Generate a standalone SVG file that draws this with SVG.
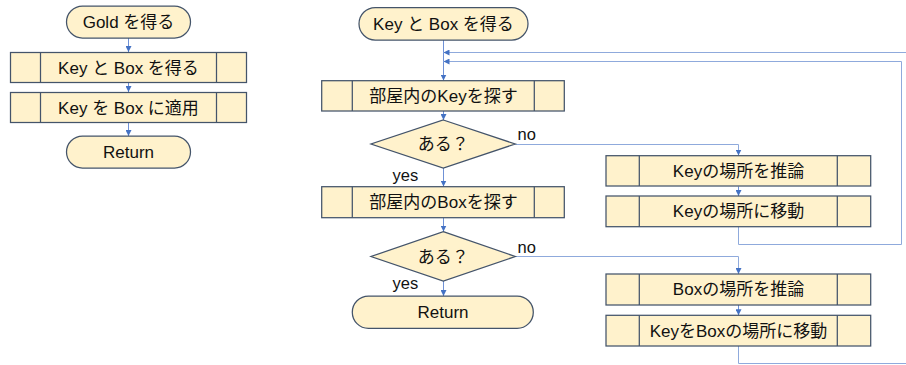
<svg xmlns="http://www.w3.org/2000/svg" width="906" height="365" viewBox="0 0 906 365">
  <style>
    .shape { fill: #FFF2CC; stroke: #44546A; stroke-width: 1.25; }
    .div { stroke: #44546A; stroke-width: 1.25; fill: none; }
    .lbl { font-family: "Liberation Sans", "Noto Sans CJK JP", sans-serif; font-size: 17px; fill: #111; text-anchor: middle; }
    .tag { font-family: "Liberation Sans", "Noto Sans CJK JP", sans-serif; font-size: 16.5px; fill: #111; }
    .flow { fill: none; stroke: #6F91D6; stroke-width: 1; }
    .loop { fill: none; stroke: #8FAADC; stroke-width: 1; }
  </style>
  <defs>
    <marker id="arr" viewBox="0 0 10 10" refX="10" refY="5" markerWidth="6" markerHeight="6" markerUnits="userSpaceOnUse" orient="auto">
      <path d="M0,0 L10,5 L0,10 z" fill="#4472C4"/>
    </marker>
  </defs>

  <rect width="906" height="365" fill="#FFFFFF"/>

  <!-- connectors -->
  <g id="connectors">
    <!-- left flow -->
    <line class="flow" x1="128.5" y1="38" x2="128.5" y2="52" marker-end="url(#arr)"/>
    <line class="flow" x1="128.5" y1="83" x2="128.5" y2="92" marker-end="url(#arr)"/>
    <line class="flow" x1="128.5" y1="123" x2="128.5" y2="136" marker-end="url(#arr)"/>
    <!-- right main flow -->
    <line class="flow" x1="443.5" y1="40" x2="443.5" y2="80.5" marker-end="url(#arr)"/>
    <line class="flow" x1="443.5" y1="111" x2="443.5" y2="120" marker-end="url(#arr)"/>
    <line class="flow" x1="443.5" y1="168" x2="443.5" y2="186.5" marker-end="url(#arr)"/>
    <line class="flow" x1="443.5" y1="218" x2="443.5" y2="231.5" marker-end="url(#arr)"/>
    <line class="flow" x1="443.5" y1="281" x2="443.5" y2="296" marker-end="url(#arr)"/>
    <!-- no branches -->
    <polyline class="loop" points="515.3,144.5 738.5,144.5 738.5,155.5" marker-end="url(#arr)"/>
    <polyline class="loop" points="515.3,256.5 738.5,256.5 738.5,274" marker-end="url(#arr)"/>
    <line class="flow" x1="738.5" y1="186.5" x2="738.5" y2="196" marker-end="url(#arr)"/>
    <line class="flow" x1="738.5" y1="305" x2="738.5" y2="315.3" marker-end="url(#arr)"/>
    <!-- loops back -->
    <polyline class="loop" points="738.5,227 738.5,244.5 901.5,244.5 901.5,61.5 443.5,61.5" marker-end="url(#arr)"/>
    <polyline class="loop" points="738.5,346 738.5,363.5 908.5,363.5 908.5,52.5 443.5,52.5" marker-end="url(#arr)"/>
  </g>

  <!-- left flow nodes -->
  <g id="gold-start">
    <rect class="shape" x="66.5" y="6" width="124" height="32" rx="16"/>
    <text class="lbl" x="128.5" y="28">Gold を得る</text>
  </g>
  <g id="get-key-box">
    <rect class="shape" x="10.5" y="52.5" width="236" height="30"/>
    <line class="div" x1="40.5" y1="52.5" x2="40.5" y2="82.5"/>
    <line class="div" x1="216.5" y1="52.5" x2="216.5" y2="82.5"/>
    <text class="lbl" x="128.5" y="73.5">Key と Box を得る</text>
  </g>
  <g id="apply-key">
    <rect class="shape" x="10.5" y="92.5" width="236" height="30"/>
    <line class="div" x1="40.5" y1="92.5" x2="40.5" y2="122.5"/>
    <line class="div" x1="216.5" y1="92.5" x2="216.5" y2="122.5"/>
    <text class="lbl" x="128.5" y="113.5">Key を Box に適用</text>
  </g>
  <g id="gold-return">
    <rect class="shape" x="66.5" y="136" width="124" height="32" rx="16"/>
    <text class="lbl" x="128.5" y="158">Return</text>
  </g>

  <!-- right flow nodes -->
  <g id="kb-start">
    <rect class="shape" x="359" y="7.5" width="169" height="32.5" rx="16.25"/>
    <text class="lbl" x="443.5" y="29.5">Key と Box を得る</text>
  </g>
  <g id="find-key">
    <rect class="shape" x="321.7" y="80.7" width="242.6" height="30.3"/>
    <line class="div" x1="352.3" y1="80.7" x2="352.3" y2="111"/>
    <line class="div" x1="534.3" y1="80.7" x2="534.3" y2="111"/>
    <text class="lbl" x="443.5" y="101.5">部屋内のKeyを探す</text>
  </g>
  <g id="key-found">
    <polygon class="shape" points="443.3,120 515.3,144 443.3,168 371,144"/>
    <text class="lbl" x="443.3" y="150">ある？</text>
    <text class="tag" x="517.5" y="139.5">no</text>
    <text class="tag" x="392.5" y="180.5">yes</text>
  </g>
  <g id="find-box">
    <rect class="shape" x="321.7" y="186.7" width="242.6" height="31"/>
    <line class="div" x1="352.3" y1="186.7" x2="352.3" y2="217.7"/>
    <line class="div" x1="534.3" y1="186.7" x2="534.3" y2="217.7"/>
    <text class="lbl" x="443.5" y="208">部屋内のBoxを探す</text>
  </g>
  <g id="box-found">
    <polygon class="shape" points="443.3,231.7 515.3,256.5 443.3,281 371,256.5"/>
    <text class="lbl" x="443.3" y="262.5">ある？</text>
    <text class="tag" x="517.5" y="252.5">no</text>
    <text class="tag" x="392.5" y="289">yes</text>
  </g>
  <g id="kb-return">
    <rect class="shape" x="352.3" y="296" width="181" height="32.3" rx="16.15"/>
    <text class="lbl" x="443" y="318">Return</text>
  </g>
  <g id="guess-key">
    <rect class="shape" x="606" y="155.7" width="264.7" height="30.3"/>
    <line class="div" x1="639.3" y1="155.7" x2="639.3" y2="186"/>
    <line class="div" x1="837.3" y1="155.7" x2="837.3" y2="186"/>
    <text class="lbl" x="738.5" y="176.5">Keyの場所を推論</text>
  </g>
  <g id="go-key">
    <rect class="shape" x="606" y="196" width="264.7" height="30.7"/>
    <line class="div" x1="639.3" y1="196" x2="639.3" y2="226.7"/>
    <line class="div" x1="837.3" y1="196" x2="837.3" y2="226.7"/>
    <text class="lbl" x="738.5" y="217">Keyの場所に移動</text>
  </g>
  <g id="guess-box">
    <rect class="shape" x="606" y="274" width="264.7" height="31"/>
    <line class="div" x1="639.3" y1="274" x2="639.3" y2="305"/>
    <line class="div" x1="837.3" y1="274" x2="837.3" y2="305"/>
    <text class="lbl" x="738.5" y="295">Boxの場所を推論</text>
  </g>
  <g id="carry-key">
    <rect class="shape" x="606" y="315.3" width="264.7" height="30.7"/>
    <line class="div" x1="639.3" y1="315.3" x2="639.3" y2="346"/>
    <line class="div" x1="837.3" y1="315.3" x2="837.3" y2="346"/>
    <text class="lbl" x="738.5" y="336.5">KeyをBoxの場所に移動</text>
  </g>
</svg>
